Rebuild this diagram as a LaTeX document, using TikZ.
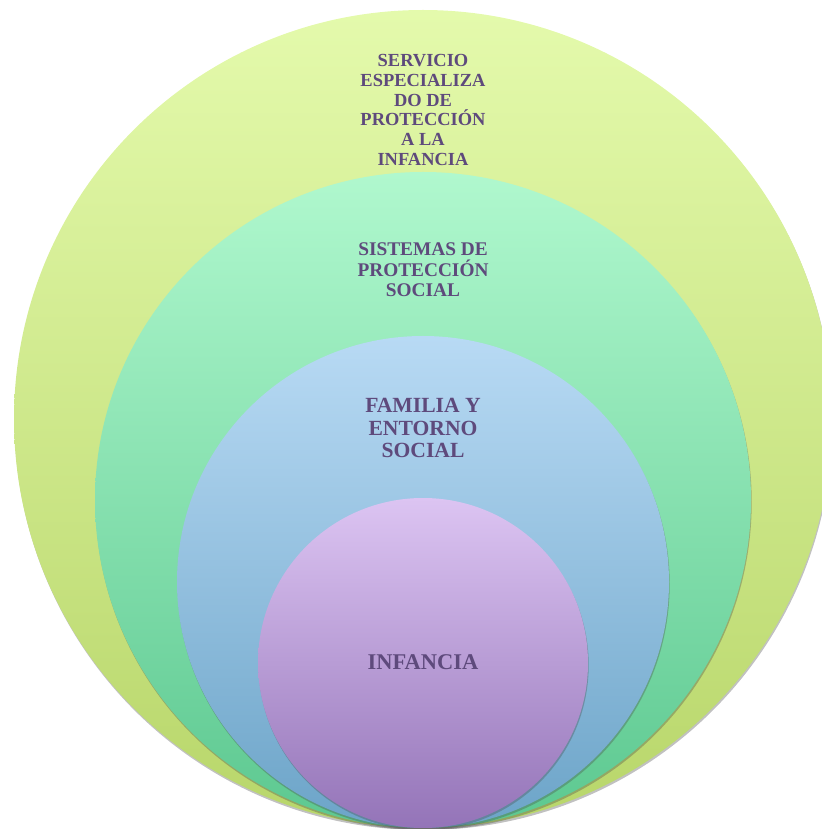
\documentclass[tikz,border=0pt]{standalone}
\usepackage{fontspec}
\setmainfont{Liberation Serif}
\usepackage{tikz}
\usetikzlibrary{shadows}

\definecolor{txtpurple}{RGB}{94,74,124}
\definecolor{outertop}{RGB}{228,250,172}
\definecolor{outerbot}{RGB}{184,214,106}
\definecolor{greentop}{RGB}{176,248,206}
\definecolor{greenbot}{RGB}{92,200,144}
\definecolor{bluetop}{RGB}{184,218,244}
\definecolor{bluebot}{RGB}{108,164,200}
\definecolor{purptop}{RGB}{220,196,242}
\definecolor{purpbot}{RGB}{148,116,184}

\tikzset{
	ring/.style={drop shadow={shadow xshift=0.4pt, shadow yshift=-1.2pt, opacity=0.35, fill=black!70}},
	ringlabel/.style={text=txtpurple, align=center, font=\bfseries}
}

\begin{document}
\begin{tikzpicture}[x=0.02cm, y=0.02cm]
			%%%%% START %%%%%
			
			\useasboundingbox (0, 0) rectangle (822, 829);
			
			\shade[ring, top color=outertop, bottom color=outerbot] (423, 410) circle (409);
			\shade[ring, top color=greentop, bottom color=greenbot] (423, 329) circle (328);
			\shade[ring, top color=bluetop, bottom color=bluebot] (423, 247) circle (246);
			\shade[ring, top color=purptop, bottom color=purpbot] (423, 166) circle (165);
			
			\node[ringlabel, font=\bfseries\fontsize{10.5}{11.3}\selectfont] (servicio) at (423, 719) {SERVICIO\\ESPECIALIZA\\DO DE\\PROTECCIÓN\\A LA\\INFANCIA};
			\node[ringlabel, font=\bfseries\fontsize{11}{11.6}\selectfont] (sistemas) at (423, 559) {SISTEMAS DE\\PROTECCIÓN\\SOCIAL};
			\node[ringlabel, font=\bfseries\fontsize{12.3}{12.8}\selectfont] (familia) at (423, 401) {FAMILIA Y\\ENTORNO\\SOCIAL};
			\node[ringlabel, font=\bfseries\fontsize{12.8}{13.2}\selectfont] (infancia) at (423, 167) {INFANCIA};
			
			%%%%% END %%%%%
		\end{tikzpicture}
\end{document}
